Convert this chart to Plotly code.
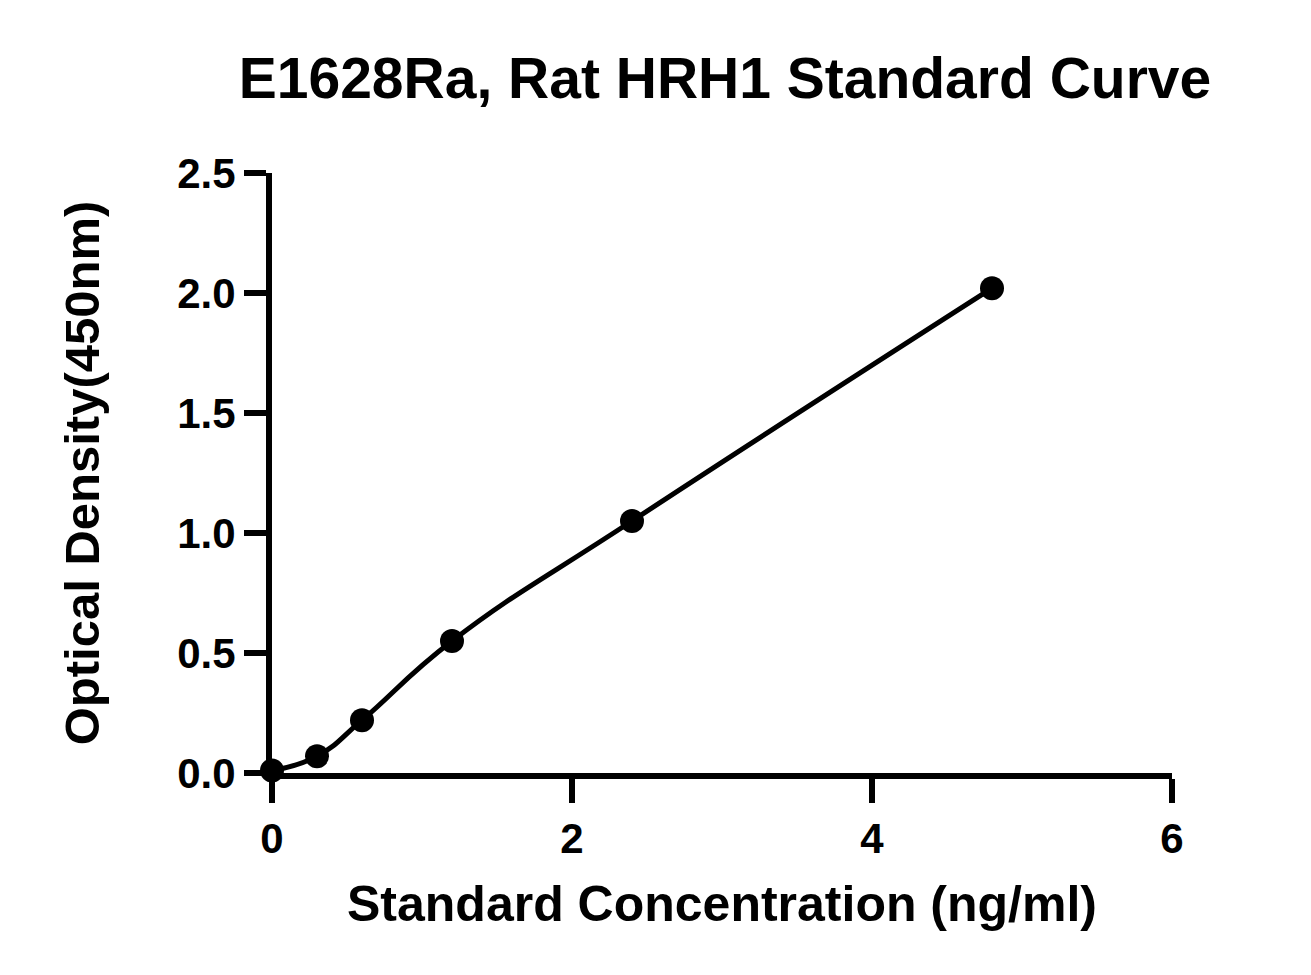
import plotly.graph_objects as go

conc = [0, 0.3, 0.6, 1.2, 2.4, 4.8]
od = [0.01, 0.07, 0.22, 0.55, 1.05, 2.02]
x_ticks = [0, 2, 4, 6]
y_ticks = [0, 0.5, 1.0, 1.5, 2.0, 2.5]
y_tick_labels = ["0.0", "0.5", "1.0", "1.5", "2.0", "2.5"]

FONT = "Liberation Sans, Arial, sans-serif"

fig = go.Figure()
fig.add_trace(go.Scatter(x=conc, y=od, mode="lines", line=dict(color="black", width=5, shape="spline", smoothing=1.3),
                         hoverinfo="skip", showlegend=False, cliponaxis=False))
fig.add_trace(go.Scatter(x=conc, y=od, mode="markers", marker=dict(color="black", size=24),
                         showlegend=False, cliponaxis=False))

fig.update_layout(
    width=1311, height=975,
    paper_bgcolor="white", plot_bgcolor="white",
    margin=dict(l=272, r=139, t=173, b=202),
    font=dict(family=FONT, color="black"),
    title=dict(text="<b>E1628Ra, Rat HRH1 Standard Curve</b>", x=0.553, xanchor="center",
               y=0.92, yanchor="middle", font=dict(size=57, family=FONT, color="black")),
    xaxis=dict(range=[0, 6], tickvals=x_ticks, ticktext=[f"<b>{v}</b>" for v in x_ticks],
               showgrid=False, zeroline=False, showline=True, linecolor="black", linewidth=6,
               ticks="outside", ticklen=24, tickwidth=6, tickcolor="black",
               tickfont=dict(size=42, family=FONT, color="black"),
               title=dict(text="<b>Standard Concentration (ng/ml)</b>", font=dict(size=50, family=FONT, color="black"), standoff=27)),
    yaxis=dict(range=[0, 2.5], tickvals=y_ticks, ticktext=[f"<b>{t}</b>" for t in y_tick_labels],
               showgrid=False, zeroline=False, showline=True, linecolor="black", linewidth=6,
               ticks="outside", ticklen=22, tickwidth=6, tickcolor="black",
               tickfont=dict(size=42, family=FONT, color="black"),
               title=dict(text="<b>Optical Density(450nm)</b>", font=dict(size=49, family=FONT, color="black"), standoff=64)),
)

fig.write_html("out.html")
